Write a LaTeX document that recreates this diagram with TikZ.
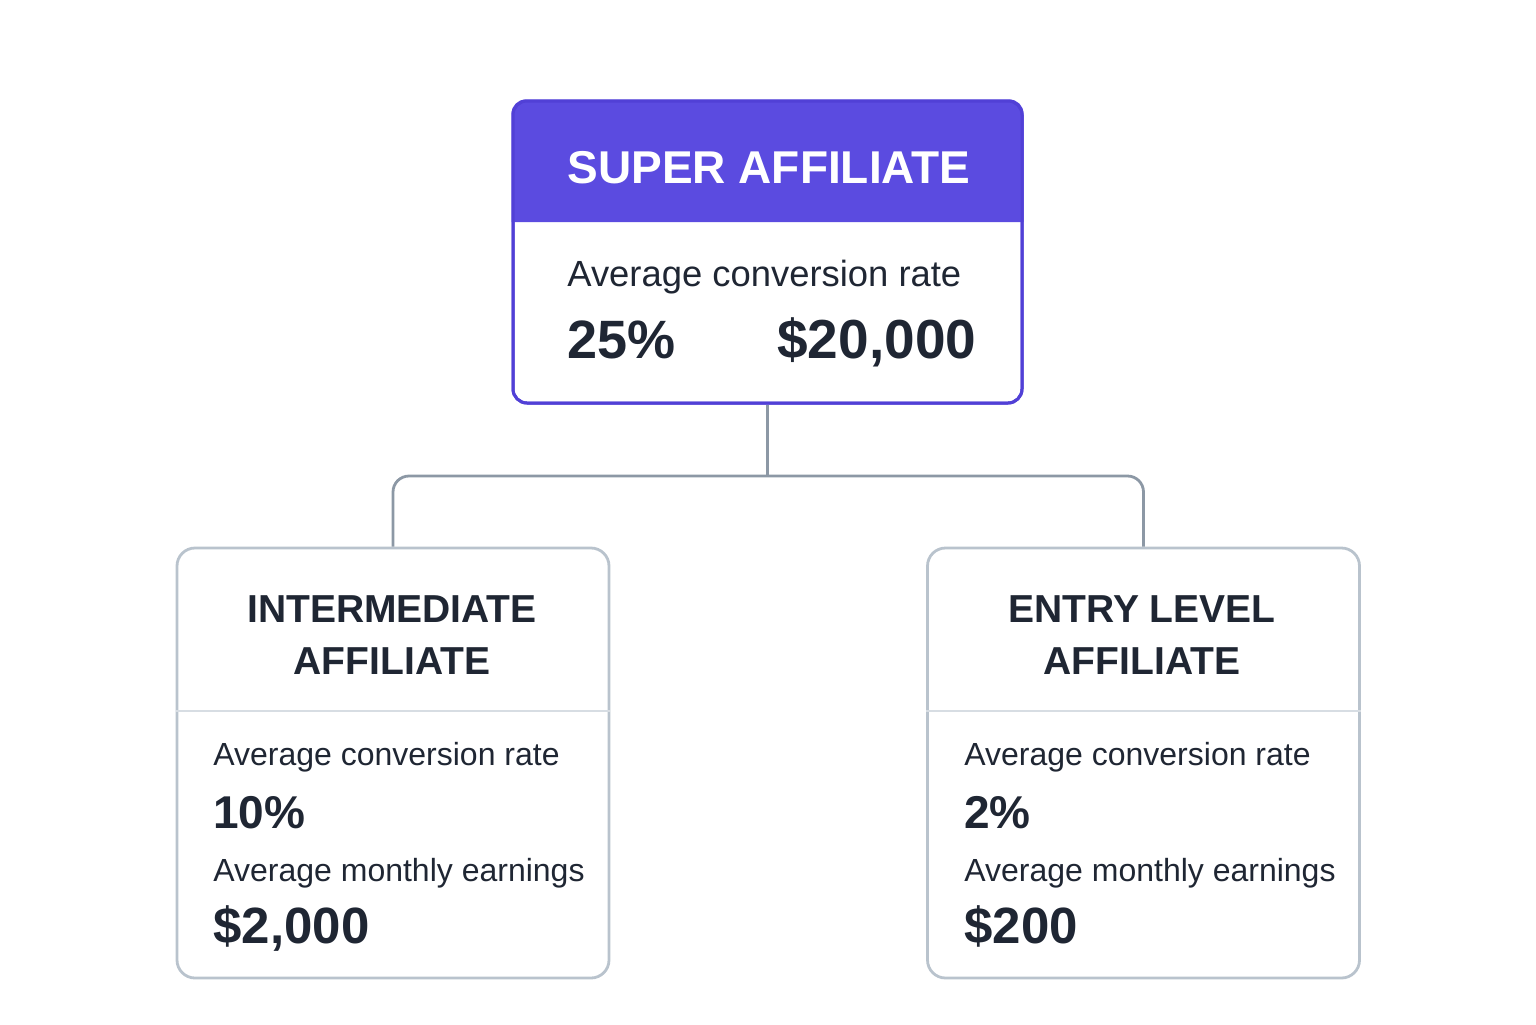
\documentclass[tikz,border=0pt]{standalone}
\usepackage{fontspec}
\setmainfont{Liberation Sans}
\usepackage{xcolor}
\usepackage{tikz}
\definecolor{affpurple}{HTML}{5B4BE0}
\definecolor{affedge}{HTML}{5140D6}
\definecolor{afftext}{HTML}{1F2633}
\definecolor{affgray}{HTML}{B9C3CD}
\definecolor{afflink}{HTML}{8C98A5}
\definecolor{affrule}{HTML}{D7DDE3}
\tikzstyle{aff_top} = [rectangle, draw=affedge, line width=1.5pt, rounded corners=7pt, minimum width=254.5pt, minimum height=151pt, inner sep=0pt]
\tikzstyle{aff_box} = [rectangle, draw=affgray, line width=1.4pt, rounded corners=9pt, minimum width=216pt, minimum height=215pt, inner sep=0pt]
\tikzstyle{aff_title} = [white, font=\fontsize{23}{28}\selectfont\bfseries, anchor=base, inner sep=0pt]
\tikzstyle{aff_head} = [afftext, font=\fontsize{19.5}{26}\selectfont\bfseries, align=center, inner sep=0pt]
\tikzstyle{aff_lbl} = [afftext, anchor=base west, inner sep=0pt, font=\fontsize{16}{19}\selectfont]
\tikzstyle{aff_val} = [afftext, anchor=base west, inner sep=0pt, font=\fontsize{23}{28}\selectfont\bfseries]
\tikzstyle{aff_link} = [draw=afflink, line width=1.4pt, rounded corners=8pt]
\tikzstyle{aff_rule} = [draw=affrule, line width=1.2pt]

\begin{document}
\begin{tikzpicture}[x=0.5pt,y=-0.5pt]
\useasboundingbox (0,0) rectangle (1536,1024);

% top level
\node [aff_top] (super) at (767.5,252) {};
\fill [affpurple] (super.west |- 0,222) -- (super.west |- 0,150) [rounded corners=7pt] |- (super.north) -| (super.east |- 0,150) [sharp corners] -- (super.east |- 0,222) -- cycle;
\node [aff_top, fill=none] at (super) {};
\node [aff_title] (super title) at (769,183) {SUPER AFFILIATE};
\node [aff_lbl, font=\fontsize{18.2}{22}\selectfont] (super rate lbl) at (567,286) {Average conversion rate};
\node [aff_val, font=\fontsize{27}{32}\selectfont\bfseries] (super rate) at (567,358) {25\%};
\node [aff_val, font=\fontsize{27.5}{32}\selectfont\bfseries] (super earn) at (777,358) {\$20,000};

% second level
\node [aff_box] (inter) at (393,763) {};
\node [aff_box] (entry) at (1143.5,763) {};
\draw [aff_rule] (inter.west |- 0,711) -- (inter.east |- 0,711);
\draw [aff_rule] (entry.west |- 0,711) -- (entry.east |- 0,711);

\node [aff_head] (inter head) at (392,635) {INTERMEDIATE\\AFFILIATE};
\node [aff_lbl] (inter rate lbl) at (213,765) {Average conversion rate};
\node [aff_val] (inter rate) at (213,828) {10\%};
\node [aff_lbl] (inter earn lbl) at (213,881) {Average monthly earnings};
\node [aff_val, font=\fontsize{25.5}{30}\selectfont\bfseries] (inter earn) at (213,943) {\$2,000};

\node [aff_head] (entry head) at (1142,635) {ENTRY LEVEL\\AFFILIATE};
\node [aff_lbl] (entry rate lbl) at (964,765) {Average conversion rate};
\node [aff_val] (entry rate) at (964,828) {2\%};
\node [aff_lbl] (entry earn lbl) at (964,881) {Average monthly earnings};
\node [aff_val, font=\fontsize{25.5}{30}\selectfont\bfseries] (entry earn) at (964,943) {\$200};

% connectors
\coordinate (fork) at (767.5,476);
\draw [aff_link] (super.south) -- (fork);
\draw [aff_link] (inter.north) -- (inter.north |- fork) -- (entry.north |- fork) -- (entry.north);
\end{tikzpicture}
\end{document}
